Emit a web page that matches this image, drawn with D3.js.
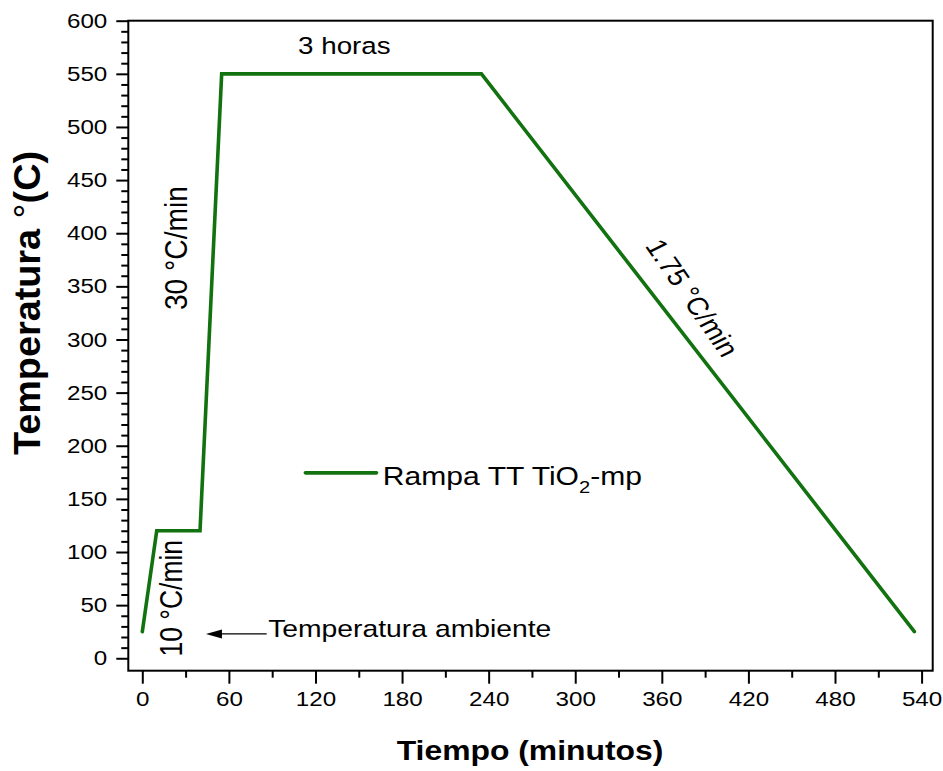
<!DOCTYPE html>
<html>
<head>
<meta charset="utf-8">
<script src="https://cdn.jsdelivr.net/npm/d3@7"></script>
<style>
  body { margin: 0; background: #fff; }
  text { font-family: "Liberation Sans", Arial, Helvetica, sans-serif; fill: #000; }
</style>
</head>
<body>
<svg id="chart" width="943" height="771"></svg>
<script>
// Heat-treatment ramp: time (min) vs temperature (°C)
const timeMin = [0, 10, 40, 55, 235, 535];
const tempC   = [25, 120, 120, 550, 550, 25];

const xTickValues  = [0, 60, 120, 180, 240, 300, 360, 420, 480, 540];
const xMinorValues = [30, 90, 150, 210, 270, 330, 390, 450, 510];
const yTickValues  = [0, 50, 100, 150, 200, 250, 300, 350, 400, 450, 500, 550, 600];
const yMinorValues = d3.range(10, 600, 10).filter(v => v % 50 !== 0);

const seriesName = "Rampa TT TiO";
const labelHold  = "3 horas";
const labelRamp1 = "10 °C/min";
const labelRamp2 = "30 °C/min";
const labelCool  = "1.75 °C/min";
const labelRoom  = "Temperatura ambiente";

const svg = d3.select("#chart");
const plot = { left: 128.3, right: 932.7, top: 20.7, bottom: 670.7 };
const SX = 1.18;            // horizontal glyph stretch
const GREEN = "#11720f";

const x = d3.scaleLinear().domain([-9.7, 547.7]).range([plot.left, plot.right]);
const y = d3.scaleLinear().domain([-11.7, 600]).range([plot.bottom, plot.top]);

// ---- axes ----
const xAxisG = svg.append("g").attr("transform", `translate(0,${plot.bottom})`)
  .call(d3.axisBottom(x).tickValues(xTickValues).tickSize(13).tickPadding(8).tickFormat(d3.format("d")));
const xMinorG = svg.append("g").attr("transform", `translate(0,${plot.bottom})`)
  .call(d3.axisBottom(x).tickValues(xMinorValues).tickSize(7).tickFormat(""));
const yAxisG = svg.append("g").attr("transform", `translate(${plot.left},0)`)
  .call(d3.axisLeft(y).tickValues(yTickValues).tickSize(12).tickPadding(9).tickFormat(d3.format("d")));
const yMinorG = svg.append("g").attr("transform", `translate(${plot.left},0)`)
  .call(d3.axisLeft(y).tickValues(yMinorValues).tickSize(7).tickFormat(""));

[xAxisG, xMinorG, yAxisG, yMinorG].forEach(g => {
  g.select(".domain").remove();
  g.selectAll(".tick line").attr("stroke", "#000").attr("stroke-width", 2);
});

xAxisG.selectAll(".tick text")
  .attr("font-size", 20.5).attr("fill", "#000")
  .attr("transform", `scale(${SX},1)`);
yAxisG.selectAll(".tick text")
  .attr("font-size", 20.5).attr("fill", "#000")
  .attr("x", -21 / SX)
  .attr("transform", `scale(${SX},1)`);

// frame
svg.append("rect")
  .attr("x", plot.left).attr("y", plot.top)
  .attr("width", plot.right - plot.left).attr("height", plot.bottom - plot.top)
  .attr("fill", "none").attr("stroke", "#000").attr("stroke-width", 2);

// ---- ramp line ----
const pts = timeMin.map((t, i) => [t, tempC[i]]);
svg.append("path")
  .datum(pts)
  .attr("fill", "none")
  .attr("stroke", GREEN)
  .attr("stroke-width", 3.6)
  .attr("stroke-linejoin", "miter")
  .attr("stroke-linecap", "round")
  .attr("d", d3.line().x(d => x(d[0])).y(d => y(d[1])));

// ---- text helpers ----
function label(px, py, txt, size, opts = {}) {
  const rot = opts.rotate ? ` rotate(${opts.rotate})` : "";
  return svg.append("text")
    .attr("transform", `translate(${px},${py}) scale(${SX},1)${rot}`)
    .attr("text-anchor", opts.anchor || "start")
    .attr("font-size", size)
    .attr("font-weight", opts.weight || "normal")
    .text(txt);
}

// segment annotations
label(x(140), y(569), labelHold, 23.5, { anchor: "middle" });
label(x(31), y(386), labelRamp2, 26.5, { anchor: "middle", rotate: -90 })
  .attr("textLength", 124).attr("lengthAdjust", "spacingAndGlyphs");
label(x(27.5), y(56.5), labelRamp1, 26.5, { anchor: "middle", rotate: -90 });

// cooling-rate label, parallel to the descending segment
{
  const dx = (x(timeMin[5]) - x(timeMin[4])) / SX;
  const dy = y(tempC[5]) - y(tempC[4]);
  const ang = Math.atan2(dy, dx) * 180 / Math.PI + 3;
  label(x(375), y(335), labelCool, 25, { anchor: "middle", rotate: ang });
}

// room-temperature pointer
{
  const tipX = x(44.1), tailX = x(86.2), ay = y(22.9);
  svg.append("line")
    .attr("x1", tipX + 10).attr("x2", tailX)
    .attr("y1", ay).attr("y2", ay)
    .attr("stroke", "#000").attr("stroke-width", 1.3);
  svg.append("path")
    .attr("d", `M${tipX},${ay} L${tipX + 16},${ay - 4.5} L${tipX + 16},${ay + 4.5} Z`)
    .attr("fill", "#000");
  label(x(87.2), y(20.3), labelRoom, 24);
}

// legend
{
  const ly = y(174.5);
  svg.append("line")
    .attr("x1", x(113)).attr("x2", x(162.3))
    .attr("y1", ly).attr("y2", ly)
    .attr("stroke", GREEN).attr("stroke-width", 3.6).attr("stroke-linecap", "round");
  const t = label(x(166.7), y(163), "", 25.5);
  t.append("tspan").text(seriesName);
  t.append("tspan").attr("font-size", 17).attr("dy", 8).text("2");
  t.append("tspan").attr("dy", -8).text("-mp");
}

// axis titles
label(530, 760, "Tiempo (minutos)", 27, { anchor: "middle", weight: "bold" });
{
  const t = label(40, 303, "", 31, { anchor: "middle", weight: "bold", rotate: -90 })
    .attr("textLength", 304).attr("lengthAdjust", "spacingAndGlyphs");
  t.append("tspan").text("Temperatura ");
  t.append("tspan").attr("font-weight", "normal").text("°");
  t.append("tspan").text("(C)");
}
</script>
</body>
</html>
